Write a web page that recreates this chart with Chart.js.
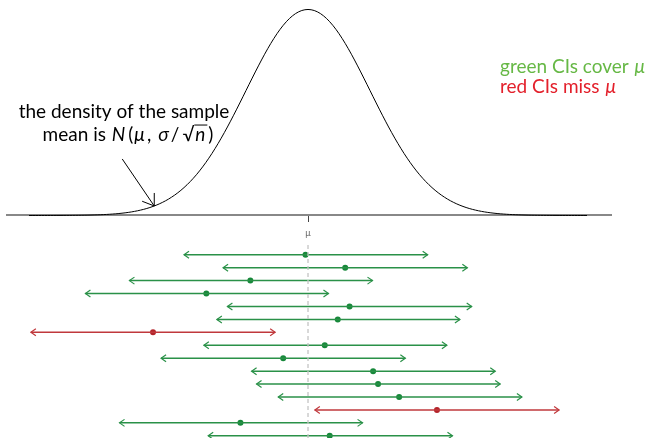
<!DOCTYPE html>
<html>
<head>
<meta charset="utf-8">
<script src="https://cdn.jsdelivr.net/npm/chart.js@4.4.0/dist/chart.umd.min.js"></script>
<style>
  html, body { margin: 0; padding: 0; background: #fff; }
  #wrap { width: 649px; height: 438px; }
</style>
</head>
<body>
<div id="wrap"><canvas id="chart" width="649" height="438"></canvas></div>
<script>
// x values are in units of sigma/sqrt(n), measured from mu
const rows = [1, 2, 3, 4, 5, 6, 7, 8, 9, 10, 11, 12, 13, 14, 15];
const sampleMeans = [-0.04, 0.60, -0.93, -1.64, 0.67, 0.48, -2.50, 0.27, -0.40, 1.05, 1.13, 1.47, 2.08, -1.09, 0.35];
const lowerBounds = [-2.00, -1.37, -2.88, -3.59, -1.30, -1.47, -4.47, -1.68, -2.37, -0.91, -0.83, -0.48, 0.11, -3.04, -1.61];
const upperBounds = [1.93, 2.57, 1.04, 0.33, 2.64, 2.45, -0.53, 2.24, 1.57, 3.02, 3.10, 3.45, 4.05, 0.88, 2.33];
const tickLabels = ['μ'];

const GREEN = '#2a9148';
const RED = '#c0383c';
const GREEN_DOT = '#17883a';
const RED_DOT = '#b3242a';

const FONT = 'Lato, "DejaVu Sans", sans-serif';
const SIZE = 19;

// the sampling distribution N(mu, sigma/sqrt(n)) in standard units
const density = z => Math.exp(-z * z / 2) / Math.sqrt(2 * Math.PI);
const curve = [];
for (let z = -4.5; z <= 4.5001; z += 0.05) curve.push({ x: z, y: density(z) });

const covers = rows.map((r, i) => lowerBounds[i] <= 0 && upperBounds[i] >= 0);

const datasets = [
  {
    data: curve,
    yAxisID: 'yd',
    borderColor: '#000',
    borderWidth: 1,
    pointRadius: 0
  },
  {
    data: [{ x: 0, y: 0.25 }, { x: 0, y: 15.5 }],
    yAxisID: 'yr',
    borderColor: '#c4c4c4',
    borderWidth: 1.3,
    borderDash: [4, 3],
    pointRadius: 0
  }
];

rows.forEach((r, i) => {
  datasets.push({
    data: [{ x: lowerBounds[i], y: r }, { x: upperBounds[i], y: r }],
    yAxisID: 'yr',
    borderColor: covers[i] ? GREEN : RED,
    borderWidth: 1.5,
    pointRadius: 0
  });
});

datasets.push({
  type: 'scatter',
  data: rows.map((r, i) => ({ x: sampleMeans[i], y: r })),
  yAxisID: 'yr',
  pointRadius: 3,
  borderWidth: 0,
  backgroundColor: covers.map(c => (c ? GREEN_DOT : RED_DOT))
});

const drawText = (ctx, pieces, cx, y, size) => {
  // pieces: [text, italic, extra gap after, overline]
  const fontOf = it => `${it ? 'italic ' : ''}${size}px ${FONT}`;
  let total = 0;
  pieces.forEach(p => {
    ctx.font = fontOf(p[1]);
    total += ctx.measureText(p[0]).width + (p[2] || 0);
  });
  let x = cx - total / 2;
  pieces.forEach(p => {
    ctx.font = fontOf(p[1]);
    const w = ctx.measureText(p[0]).width;
    ctx.fillText(p[0], x, y);
    if (p[3]) {
      ctx.beginPath();
      ctx.lineWidth = 1;
      ctx.moveTo(x - 1, y - size * 0.84);
      ctx.lineTo(x + w + 2, y - size * 0.84);
      ctx.stroke();
    }
    x += w + (p[2] || 0);
  });
};

const annotations = {
  id: 'annotations',
  afterDatasetsDraw(chart) {
    const { ctx, scales } = chart;
    const { x: xs, yd, yr } = scales;
    ctx.save();

    // arrow heads on the intervals
    ctx.lineWidth = 1.2;
    rows.forEach((r, i) => {
      const y = yr.getPixelForValue(r);
      const l = xs.getPixelForValue(lowerBounds[i]);
      const u = xs.getPixelForValue(upperBounds[i]);
      ctx.strokeStyle = covers[i] ? GREEN : RED;
      ctx.beginPath();
      ctx.moveTo(l + 5, y - 3.5);
      ctx.lineTo(l, y);
      ctx.lineTo(l + 5, y + 3.5);
      ctx.moveTo(u - 5, y - 3.5);
      ctx.lineTo(u, y);
      ctx.lineTo(u - 5, y + 3.5);
      ctx.stroke();
    });

    // arrow pointing at the density curve
    const tz = -2.48;
    const tx = xs.getPixelForValue(tz);
    const ty = yd.getPixelForValue(density(tz));
    const sx = tx - 32;
    const sy = ty - 47;
    const ang = Math.atan2(sy - ty, sx - tx);
    ctx.strokeStyle = '#000';
    ctx.lineWidth = 1;
    ctx.beginPath();
    ctx.moveTo(sx, sy);
    ctx.lineTo(tx, ty);
    [-0.6, 0.6].forEach(d => {
      ctx.moveTo(tx, ty);
      ctx.lineTo(tx + 13 * Math.cos(ang + d), ty + 13 * Math.sin(ang + d));
    });
    ctx.stroke();

    ctx.fillStyle = '#000';
    ctx.strokeStyle = '#000';
    ctx.textBaseline = 'alphabetic';
    ctx.textAlign = 'left';
    drawText(ctx, [['the density of the sample', false]], 124, 118, SIZE);
    drawText(ctx, [
      ['mean is ', false, 1],
      ['N', true, 3],
      ['(', false, 1],
      ['μ', true, 2],
      [',', false, 7],
      ['σ', true, 2],
      ['/', false, 3],
      ['√', false, 1],
      ['n', true, 3, true],
      [')', false]
    ], 128, 141, SIZE);

    // colour key
    const key = (label, color, y) => {
      ctx.fillStyle = color;
      ctx.font = `${SIZE}px ${FONT}`;
      ctx.fillText(label, 500, y);
      const w = ctx.measureText(label).width;
      ctx.font = `italic ${SIZE}px ${FONT}`;
      ctx.fillText('μ', 501 + w, y);
    };
    key('green CIs cover ', '#66b845', 73);
    key('red CIs miss ', '#e3202b', 93);

    ctx.restore();
  }
};

new Chart(document.getElementById('chart'), {
  type: 'line',
  data: { datasets },
  options: {
    responsive: false,
    animation: false,
    layout: { autoPadding: false, padding: { left: 7, right: 38, top: 0, bottom: 0 } },
    plugins: { legend: { display: false }, tooltip: { enabled: false } },
    scales: {
      x: {
        type: 'linear',
        min: -4.855,
        max: 4.887,
        position: { yd: 0 },
        afterBuildTicks: scale => { scale.ticks = [{ value: 0 }]; },
        ticks: {
          callback: () => tickLabels[0],
          font: { size: 9, family: FONT },
          color: '#666',
          padding: 6,
          maxRotation: 0
        },
        grid: { drawOnChartArea: false, drawTicks: true, tickLength: 6, tickColor: '#444' },
        border: { display: true, color: '#888', width: 2 }
      },
      yd: { type: 'linear', display: false, min: -0.4309, max: 0.4173 },
      yr: { type: 'linear', display: false, reverse: true, min: -18.70, max: 15.17 }
    }
  },
  plugins: [annotations]
});
</script>
</body>
</html>
